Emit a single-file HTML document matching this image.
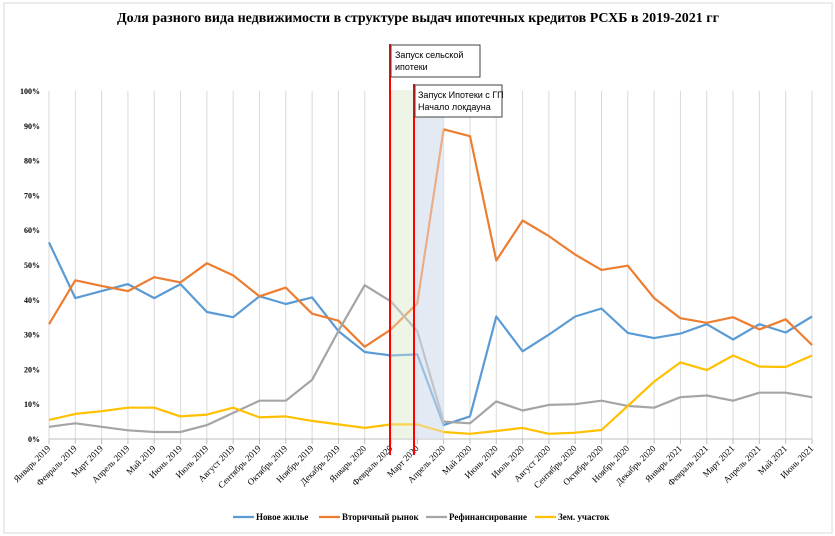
<!DOCTYPE html>
<html><head><meta charset="utf-8"><style>
body{margin:0;background:#fff}
svg{display:block;font-family:"Liberation Serif",serif}
</style></head><body>
<svg id="s" width="835" height="536" xmlns="http://www.w3.org/2000/svg">
<rect x="4" y="3" width="828" height="530" fill="#fff" stroke="#d9d9d9"/>
<text x="418" y="22" text-anchor="middle" font-size="14" font-weight="bold">Доля разного вида недвижимости в структуре выдач ипотечных кредитов РСХБ в 2019-2021 гг</text>
<g id="g"></g>
</svg>
<script>
const g=document.getElementById('g');
const X0=49,ST=26.31,Y0=439,SC=3.48;
const months=["Январь","Февраль","Март","Апрель","Май","Июнь","Июль","Август","Сентябрь","Октябрь","Ноябрь","Декабрь"];
const labs=[];for(let i=0;i<30;i++){labs.push(months[i%12]+" "+(2019+Math.floor(i/12)));}
let h='';
// band backgrounds
h+=`<rect x="390" y="90" width="24" height="349" fill="#eef5e6"/>`;
h+=`<rect x="414" y="90" width="30" height="349" fill="#e4eaf4"/>`;
for(let i=0;i<30;i++){const x=X0+i*ST;h+=`<line x1="${x}" y1="91" x2="${x}" y2="439" stroke="#d9d9d9"/>`;
h+=`<line x1="${x}" y1="439" x2="${x}" y2="444" stroke="#bfbfbf"/>`;
h+=`<text transform="translate(${x+2},449) rotate(-45)" text-anchor="end" font-size="9">${labs[i]}</text>`;}
for(let p=0;p<=100;p+=10){const y=Y0-p*SC;h+=`<text x="40" y="${y+3}" text-anchor="end" font-size="8" font-weight="bold">${p}%</text>`;}
h+=`<line x1="${X0}" y1="439" x2="${X0+29*ST}" y2="439" stroke="#bfbfbf"/>`;
const S={
"#5b9bd5":[56.5,40.5,42.5,44.5,40.5,44.5,36.5,35,41,38.8,40.7,31,25,24,24.3,4,6.5,35.2,25.2,30,35.2,37.5,30.5,29,30.3,33,28.6,33,30.6,35.2],
"#ed7d31":[33,45.6,44,42.5,46.5,45,50.5,47,41,43.5,36,34,26.5,31.5,39,89,87,51.3,62.8,58.3,53,48.6,49.8,40.5,34.7,33.4,35,31.5,34.4,27],
"#a5a5a5":[3.5,4.5,3.5,2.5,2,2,4,7.5,11,11,17,31,44.2,39.5,31,5,4.5,10.8,8.2,9.8,10,11,9.5,9,12,12.5,11,13.3,13.3,12],
"#ffc000":[5.5,7.2,8,9,9,6.5,7,9,6.2,6.5,5.2,4.2,3.2,4.2,4.2,2,1.5,2.3,3.2,1.5,1.8,2.6,9.5,16.5,22,19.8,24,20.8,20.7,24]};
for(const c in S){const pts=S[c].map((v,i)=>(X0+i*ST).toFixed(1)+","+(Y0-v*SC).toFixed(1)).join(" ");
h+=`<polyline points="${pts}" fill="none" stroke="${c}" stroke-width="2.2" stroke-linejoin="round"/>`;}
// overlay bands (semi-transparent)
h+=`<rect x="390" y="90" width="24" height="349" fill="#eef5e6" opacity="0.35"/>`;
h+=`<rect x="414" y="90" width="30" height="349" fill="#e4eaf4" opacity="0.45"/>`;
// red lines
h+=`<line x1="390" y1="44" x2="390" y2="455" stroke="#ff0000" stroke-width="2"/>`;
h+=`<line x1="414" y1="84" x2="414" y2="455" stroke="#ff0000" stroke-width="2"/>`;
h+=`<rect x="391" y="45" width="89" height="32" fill="#fff" stroke="#404040"/>`;
h+=`<text x="395" y="58" font-family="Liberation Sans,sans-serif" font-size="9">Запуск сельской</text><text x="395" y="70" font-family="Liberation Sans,sans-serif" font-size="9">ипотеки</text>`;
h+=`<rect x="415" y="85" width="87" height="32" fill="#fff" stroke="#404040"/>`;
h+=`<text x="418" y="98" font-family="Liberation Sans,sans-serif" font-size="9">Запуск Ипотеки с ГП</text><text x="418" y="110" font-family="Liberation Sans,sans-serif" font-size="9">Начало локдауна</text>`;
// legend
const L=[["#5b9bd5","Новое жилье",233],["#ed7d31","Вторичный рынок",319],["#a5a5a5","Рефинансирование",426],["#ffc000","Зем. участок",535]];
for(const [c,t,x] of L){h+=`<line x1="${x}" y1="517" x2="${x+21}" y2="517" stroke="${c}" stroke-width="2.2"/><text x="${x+23}" y="520" font-size="9" font-weight="bold">${t}</text>`;}
g.innerHTML=h;
</script>
</body></html>
